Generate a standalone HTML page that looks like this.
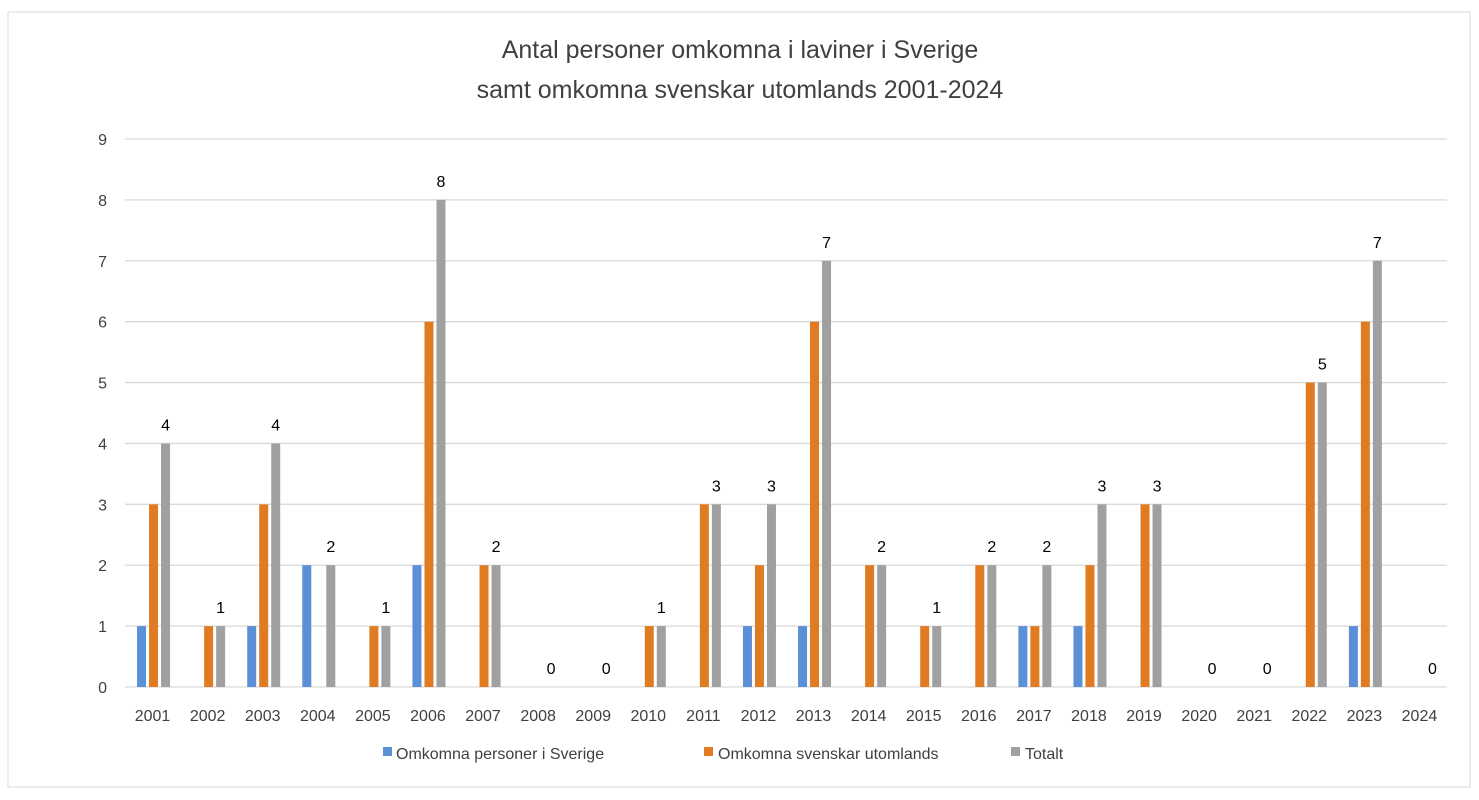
<!DOCTYPE html>
<html><head><meta charset="utf-8">
<style>
body{margin:0;background:#fff;font-family:"Liberation Sans",sans-serif;}
svg{display:block}
</style></head>
<body>
<svg width="1479" height="800">
<rect x="8" y="12" width="1462" height="775" fill="#fff" stroke="#d9d9d9"/>
<text x="740" y="58" text-anchor="middle" font-size="25" fill="#404040">Antal personer omkomna i laviner i Sverige</text>
<text x="740" y="98" text-anchor="middle" font-size="25" fill="#404040">samt omkomna svenskar utomlands 2001-2024</text>
<g id="grid"></g><g id="bars"></g><g id="labels"></g>
<g>
<rect x="383" y="747" width="9" height="9" fill="#5b8fd6"/>
<text x="396" y="759" font-size="16" fill="#404040">Omkomna personer  i Sverige</text>
<rect x="704" y="747" width="9" height="9" fill="#e07b22"/>
<text x="718" y="759" font-size="16" fill="#404040">Omkomna svenskar utomlands</text>
<rect x="1011" y="747" width="9" height="9" fill="#a0a0a0"/>
<text x="1025" y="759" font-size="16" fill="#404040">Totalt</text>
</g>
</svg>
<script>
const categories=["2001","2002","2003","2004","2005","2006","2007","2008","2009","2010","2011","2012","2013","2014","2015","2016","2017","2018","2019","2020","2021","2022","2023","2024"];
const sverige=[1,0,1,2,0,2,0,0,0,0,0,1,1,0,0,0,1,1,0,0,0,0,1,0];
const utomlands=[3,1,3,0,1,6,2,0,0,1,3,2,6,2,1,2,1,2,3,0,0,5,6,0];
const totalt=[4,1,4,2,1,8,2,0,0,1,3,3,7,2,1,2,2,3,3,0,0,5,7,0];
const yTicks=[0,1,2,3,4,5,6,7,8,9];
const NS="http://www.w3.org/2000/svg";
const x0=125,x1=1447,y0=687,y9=139;
const bw=(x1-x0)/categories.length;
const y=v=>y0-(y0-y9)*v/9;
const xc=i=>x0+bw*(i+0.5);
function mk(tag,attrs,parent){const e=document.createElementNS(NS,tag);for(const k in attrs)e.setAttribute(k,attrs[k]);parent.appendChild(e);return e;}
const grid=document.getElementById('grid'),bars=document.getElementById('bars'),labels=document.getElementById('labels');
yTicks.forEach(t=>{
 const l=mk('line',{x1:x0,x2:x1,y1:y(t),y2:y(t),stroke:'#d9d9d9','stroke-width':1.3},grid);
 
 
 const tx=mk('text',{x:107,y:y(t)+6,'text-anchor':'end','font-size':16,fill:'#404040'},grid);
 tx.textContent=t;
 
 
});
const series=[[sverige,'#5b8fd6',-11,'sverige'],[utomlands,'#e07b22',1,'utomlands'],[totalt,'#a0a0a0',13,'totalt']];
categories.forEach((c,i)=>{
 series.forEach(([arr,col,off,nm])=>{
  if(arr[i]>0){
   const r=mk('rect',{x:xc(i)+off-4.5,y:y(arr[i]),width:9,height:y0-y(arr[i]),fill:col},bars);
   
   
  }
 });
 const vl=mk('text',{x:xc(i)+13,y:y(totalt[i])-13,'text-anchor':'middle','font-size':16,fill:'#000'},labels);
 vl.textContent=totalt[i];
 
 
 const xl=mk('text',{x:xc(i),y:721,'text-anchor':'middle','font-size':16,fill:'#404040'},labels);
 xl.textContent=c;
 
 
});
</script>
</body></html>
